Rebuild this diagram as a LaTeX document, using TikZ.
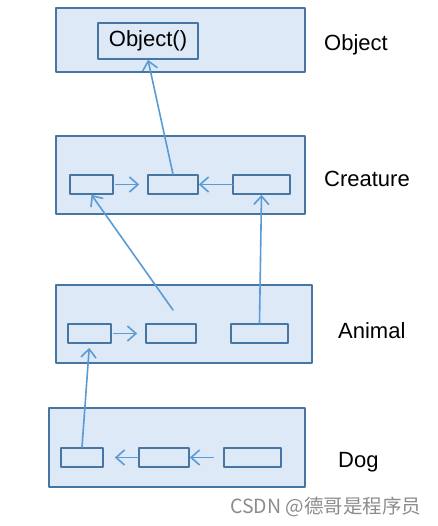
\documentclass[tikz,border=0pt]{standalone}
\usepackage{fontspec}
\setmainfont{Liberation Sans}
\newfontfamily\cjk{Noto Sans CJK SC}
\usetikzlibrary{arrows.meta}
\definecolor{boxfill}{RGB}{221,233,246}
\definecolor{boxline}{RGB}{72,118,162}
\definecolor{arrline}{RGB}{91,155,213}
\tikzset{
  layer/.style={draw=boxline, fill=boxfill, line width=1.7pt, inner sep=0pt},
  slot/.style={draw=boxline, line width=1.7pt, inner sep=0pt, minimum height=19pt},
  arr/.style={draw=arrline, line width=1.6pt, -{Straight Barb[length=8.5pt,width=15pt]}},
  tag/.style={anchor=base west, inner sep=0pt, font=\fontsize{22pt}{25pt}\selectfont}
}
\begin{document}
\begin{tikzpicture}[line cap=round,line join=round,x=1pt,y=-1pt]
  \useasboundingbox (0,0) rectangle (437,526);
  %% the four layers
  \node[layer, minimum width=249pt, minimum height=64pt] (objlayer) at (180.5,40) {};
  \node[layer, minimum width=249pt, minimum height=78pt] (crelayer) at (180.5,175) {};
  \node[layer, minimum width=256pt, minimum height=78pt] (anilayer) at (184,324) {};
  \node[layer, minimum width=256pt, minimum height=79pt] (doglayer) at (177,447.5) {};
  %% slots
  \node[slot, minimum width=100pt, minimum height=36pt, font=\fontsize{22pt}{25pt}\selectfont] (objctor) at (148,41) {Object()};
  \node[slot, minimum width=43pt] (cre1) at (91.5,184.5) {};
  \node[slot, minimum width=50pt] (cre2) at (173,184.5) {};
  \node[slot, minimum width=57pt] (cre3) at (261.5,184.5) {};
  \node[slot, minimum width=43pt] (ani1) at (89.5,333.5) {};
  \node[slot, minimum width=50pt] (ani2) at (171,333.5) {};
  \node[slot, minimum width=57pt] (ani3) at (259.5,333.5) {};
  \node[slot, minimum width=42pt] (dog1) at (82,457.5) {};
  \node[slot, minimum width=50pt] (dog2) at (164,457.5) {};
  \node[slot, minimum width=57pt] (dog3) at (252.5,457.5) {};
  \coordinate (anitop) at (173,310);
  %% links
  \draw[arr] (cre2.north) -- (objctor.south);
  \draw[arr, shorten <=2pt, shorten >=8pt] (cre1.east) -- (cre2.west);
  \draw[arr] (cre3.west) -- (cre2.east);
  \draw[arr] (anitop) -- (cre1.south);
  \draw[arr] (ani3.north) -- (cre3.south);
  \draw[arr, shorten <=2pt, shorten >=8pt] (ani1.east) -- (ani2.west);
  \draw[arr, shorten >=4pt] (dog1.north) -- (ani1.south);
  \draw[arr, shorten >=11pt] (dog2.west) -- (dog1.east);
  \draw[arr, shorten <=10pt] (dog3.west) -- (dog2.east);
  %% names
  \node[tag] (objname) at (324,51) {Object};
  \node[tag] (crename) at (324,187) {Creature};
  \node[tag] (aniname) at (338,338) {Animal};
  \node[tag] (dogname) at (338,467) {Dog};
  \node[anchor=base west, inner sep=0pt, text=black!45, font=\cjk\fontsize{19.5pt}{22pt}\selectfont] (mark) at (230,513) {CSDN @德哥是程序员};
\end{tikzpicture}
\end{document}
